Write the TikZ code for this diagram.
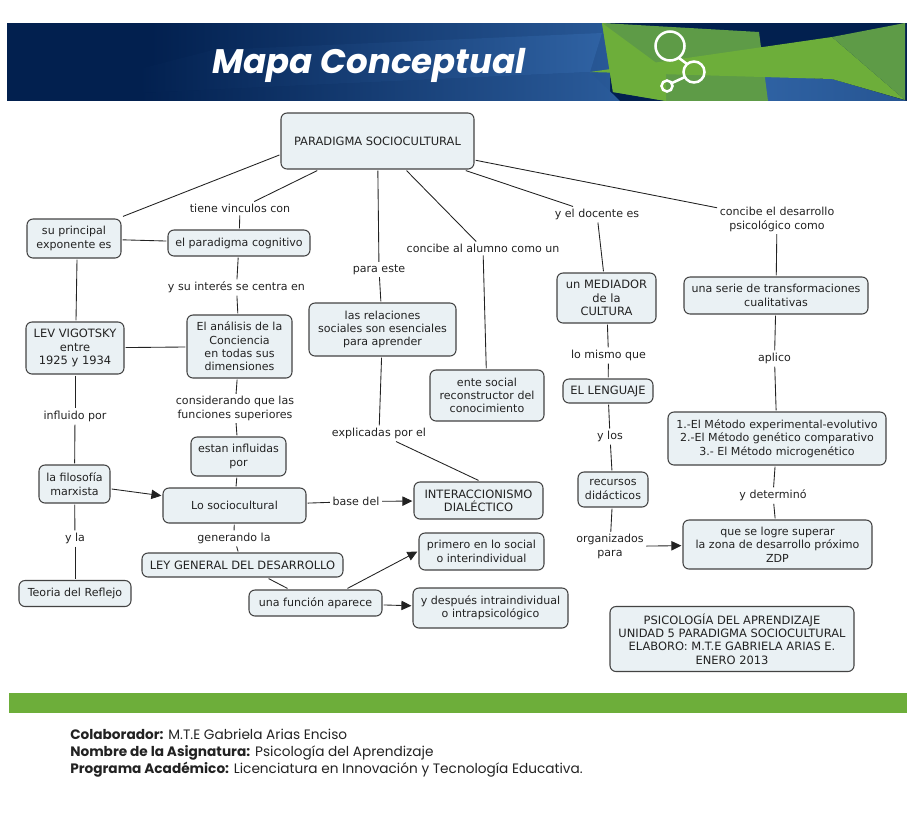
\documentclass[tikz,border=0pt]{standalone}
\usepackage{fontspec}
\usepackage{xcolor}
\usepackage{tikz}
\usetikzlibrary{arrows.meta}
\setmainfont{DejaVu Sans}
\newfontfamily\gothicfont{Poppins}
\definecolor{navy}{HTML}{02204F}
\definecolor{midblue}{HTML}{2F62A3}
\definecolor{leafgreen}{HTML}{6DAE3A}
\definecolor{darkleaf}{HTML}{5E9B47}
\definecolor{boxfill}{HTML}{EAF1F4}
\definecolor{ink}{HTML}{222222}

\begin{document}
\begin{tikzpicture}[x=0.75pt, y=-0.75pt,
			block/.style 2 args={
					rectangle,
					draw=ink!85,
					line width=0.8pt,
					fill=boxfill,
					text=ink,
					minimum width=#1*0.75pt,
					minimum height=#2*0.75pt,
					rounded corners=4.5pt,
					align=center,
					inner sep=0pt,
					outer sep=1.2pt,
					font=\fontsize{8.3}{10}\selectfont
				},
			capsblock/.style 2 args={
					block={#1}{#2},
					font=\fontsize{8.6}{10}\selectfont
				},
			tag/.style={
					text=ink,
					align=center,
					inner sep=1.8pt,
					font=\fontsize{8.3}{10}\selectfont
				},
			line/.style={draw=ink, line width=0.65pt},
			arrowline/.style={line, -{Triangle[length=7.5pt,width=7pt]}},
			foot/.style={
					anchor=north west,
					align=left,
					inner sep=0pt,
					text=ink,
					font=\gothicfont\fontsize{10.25}{12.75}\selectfont
				}
		]
		\useasboundingbox (0,0) rectangle (914,822);
		% Banner
		\begin{scope}
			\clip (7,23) rectangle (907,100.5);
			\fill [navy] (7,23) rectangle (907,101);
			\shade [left color=navy, right color=midblue!85!navy] (150,23) rectangle (610,101);
			\shade [left color=navy, right color=midblue] (213,50) -- (143,68) -- (140,93) -- (590,72) -- (602,33) -- cycle;
			\shade [left color=navy, middle color=navy, right color=midblue!90!navy] (140,93) -- (590,72) -- (620,101) -- (140,101) -- cycle;
			\shade [left color=midblue, right color=midblue!80!navy] (760,76) -- (832,79) -- (907,101) -- (760,101) -- cycle;
			\fill [darkleaf] (602,23) -- (759,32) -- (768,101) -- (666,101) -- (613,92) -- cycle;
			\fill [leafgreen] (602,23) -- (666,70) -- (666,101) -- (613,92) -- cycle;
			\fill [leafgreen] (590,72) -- (832,37) -- (905,100) -- (832,79) -- cycle;
			\fill [darkleaf] (832,37) -- (905,23) -- (905,100) -- cycle;
		\end{scope}
		\draw [white, line width=1.9pt] (670,46) circle (14.5) (694,72) circle (10.5) (667,86) circle (5.5);
		\draw [white, line width=1.9pt] (679,58) -- (687,64) (685,77) -- (672,83);
		\node [inner sep=0pt, text=white, font=\gothicfont\bfseries\itshape\fontsize{25.5}{30}\selectfont] (maptitle) at (369,65) {Mapa Conceptual};
		% Place nodes
		\node [capsblock={193}{56}] (root) at (377.5,141) {PARADIGMA SOCIOCULTURAL};
		\node [block={94}{39}] (exponent) at (74,238.5) {su principal\\exponente es};
		\node [block={142}{26}] (cognitive) at (239,243) {el paradigma cognitivo};
		\node [capsblock={98}{52}] (lev) at (75,348) {LEV VIGOTSKY\\entre\\1925 y 1934};
		\node [block={105}{63}] (analysis) at (239.5,346.5) {El análisis de la\\Conciencia\\en todas sus\\dimensiones};
		\node [block={71}{38}] (marxist) at (74.5,484) {la filosofía\\marxista};
		\node [block={95}{39}] (influenced) at (238.5,456.5) {estan influidas\\por};
		\node [block={143}{35}] (sociocultural) at (234.5,505.5) {Lo sociocultural};
		\node [capsblock={201}{24}] (law) at (242.5,565) {LEY GENERAL DEL DESARROLLO};
		\node [block={112}{26}] (reflection) at (75,593.5) {Teoria del Reflejo};
		\node [block={133}{26}] (function) at (315.5,603) {una función aparece};
		\node [block={147}{53}] (relations) at (382.5,329.5) {las relaciones\\sociales son esenciales\\para aprender};
		\node [block={114}{51}] (socialbeing) at (487,395.5) {ente social\\reconstructor del\\conocimiento};
		\node [capsblock={99}{50}] (mediator) at (606.5,298) {un MEDIADOR\\de la\\CULTURA};
		\node [capsblock={90}{24}] (language) at (608,391) {EL LENGUAJE};
		\node [block={70}{35}] (resources) at (613,489.5) {recursos\\didácticos};
		\node [capsblock={129}{37}] (interaction) at (478.5,500.5) {INTERACCIONISMO\\DIALÉCTICO};
		\node [block={125}{37}] (first) at (481.5,551.5) {primero en lo social\\o interindividual};
		\node [block={155}{40}] (after) at (490.5,608) {y después intraindividual\\o intrapsicológico};
		\node [block={184}{37}] (series) at (776,295.5) {una serie de transformaciones\\cualitativas};
		\node [block={218}{53}] (methods) at (777,438.5) {1.-El Método experimental-evolutivo\\2.-El Método genético comparativo\\3.- El Método microgenético};
		\node [block={189}{49}] (zdp) at (777.5,544.5) {que se logre superar\\la zona de desarrollo próximo\\ZDP};
		\node [capsblock={244}{65}] (credits) at (732,639) {PSICOLOGÍA DEL APRENDIZAJE\\UNIDAD 5 PARADIGMA SOCIOCULTURAL\\ELABORO: M.T.E GABRIELA ARIAS E.\\ENERO 2013};
		% Place link labels
		\node [tag] (haslinks) at (240,208.5) {tiene vinculos con};
		\node [tag] (interest) at (236.5,287.5) {y su interés se centra en};
		\node [tag] (considering) at (235,408.5) {considerando que las\\funciones superiores};
		\node [tag] (influencedby) at (75,416.5) {influido por};
		\node [tag] (andthe) at (75,538.5) {y la};
		\node [tag] (generating) at (234,538.5) {generando la};
		\node [tag] (forthis) at (379,269.5) {para este};
		\node [tag] (student) at (483,248.5) {concibe al alumno como un};
		\node [tag] (teacher) at (597,214.5) {y el docente es};
		\node [tag] (development) at (777,219.5) {concibe el desarrollo\\psicológico como};
		\node [tag] (sameas) at (608.5,355.5) {lo mismo que};
		\node [tag] (andthose) at (610,436.5) {y los};
		\node [tag] (organized) at (610,546.5) {organizados\\para};
		\node [tag] (applied) at (774.5,358.5) {aplico};
		\node [tag] (determined) at (773,495.5) {y determinó};
		\node [tag] (basis) at (356,501.5) {base del};
		\node [tag] (explained) at (379,433.5) {explicadas por el};
		% Draw edges
		\path [line] ([shift={(0,14)}]root.west) -- ([shift={(49,-1)}]exponent.north);
		\path [line] (root) -- (haslinks);
		\path [line] (haslinks) -- (cognitive);
		\path [line] (exponent) -- (cognitive);
		\path [line] ([shift={(3,0)}]exponent.south) -- ([shift={(1,0)}]lev.north);
		\path [line] (cognitive) -- (interest);
		\path [line] (interest) -- (analysis);
		\path [line] (lev) -- (analysis);
		\path [line] (analysis) -- (considering);
		\path [line] (considering) -- (influenced);
		\path [line] (influenced) -- (sociocultural);
		\path [line] (sociocultural) -- (generating);
		\path [line] (generating) -- (law);
		\path [line] (law) -- (function);
		\path [arrowline] ([shift={(32,0)}]function.north) -- (first.west);
		\path [arrowline] (function) -- (after);
		\path [arrowline] (marxist) -- (sociocultural);
		\path [line] (lev) -- (influencedby);
		\path [line] (influencedby) -- (marxist);
		\path [line] (marxist) -- (andthe);
		\path [line] (andthe) -- (reflection);
		\path [line] (root) -- (forthis);
		\path [line] (forthis) -- (relations);
		\path [line] (relations) -- (explained);
		\path [line] (explained) -- (interaction.north);
		\path [line] (root) -- (student);
		\path [line] (student) -- (socialbeing);
		\path [line] (root) -- (teacher);
		\path [line] (teacher) -- (mediator);
		\path [line] (root) -- (development);
		\path [line] (development) -- (series);
		\path [line] (mediator) -- (sameas);
		\path [line] (sameas) -- (language);
		\path [line] (language) -- (andthose);
		\path [line] (andthose) -- (resources);
		\path [line] (resources) -- (organized);
		\path [arrowline] (organized) -- (zdp);
		\path [line] (sociocultural) -- (basis);
		\path [arrowline] (basis) -- (interaction);
		\path [line] (series) -- (applied);
		\path [line] (applied) -- (methods);
		\path [line] (methods) -- (determined);
		\path [line] (determined) -- (zdp);
		% Footer
		\fill [leafgreen] (9,693) rectangle (907,713);
		\node [foot] (footer) at (70,728.5) {\textbf{Colaborador:} M.T.E Gabriela Arias Enciso\\\textbf{Nombre de la Asignatura:} Psicología del Aprendizaje\\\textbf{Programa Académico:} Licenciatura en Innovación y Tecnología Educativa.};
	\end{tikzpicture}
\end{document}
